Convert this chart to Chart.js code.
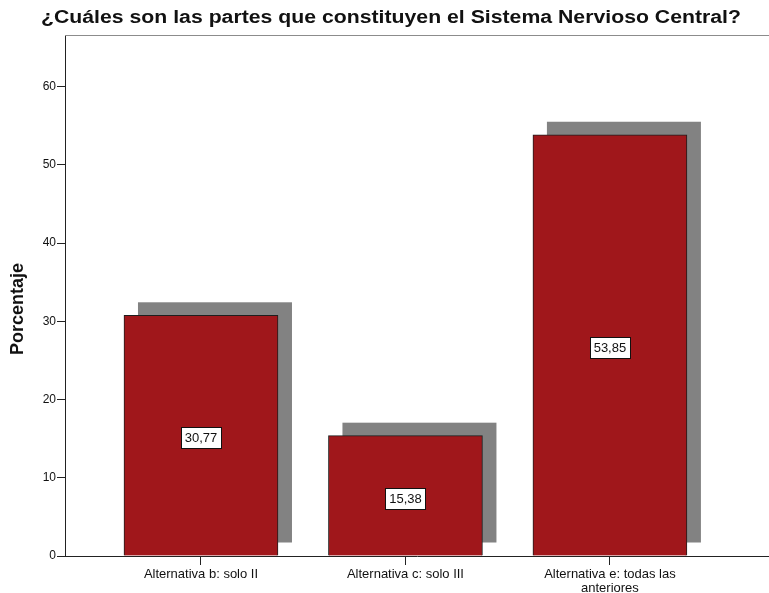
<!DOCTYPE html>
<html>
<head>
<meta charset="utf-8">
<script src="https://cdn.jsdelivr.net/npm/chart.js@4.4.1/dist/chart.umd.min.js"></script>
<style>
  html, body { margin: 0; padding: 0; background: #fff; }
  #wrap { width: 769px; height: 593px; }
</style>
</head>
<body>
<div id="wrap"><canvas id="chart" width="769" height="593"></canvas></div>
<script>
const categories = [
    ['Alternativa b: solo II'],
    ['Alternativa c: solo III'],
    ['Alternativa e: todas las', 'anteriores']
];
const positions = [0, 1, 2];
const percentages = [30.77, 15.38, 53.85];
const yTicks = [0, 10, 20, 30, 40, 50, 60];
const chartTitle = '¿Cuáles son las partes que constituyen el Sistema Nervioso Central?';
const yTitle = 'Porcentaje';

const colors = {
    bar: '#a0171b',
    barEdge: '#1e1e1e',
    shadow: '#828282',
    axis: '#222222',
    frame: '#8c8c8c',
    text: '#111111'
};
const FONT = "'Liberation Sans', Arial, sans-serif";

const fmt = v => v.toFixed(2).replace('.', ',');

// grey block behind each bar, shifted right and up
const shadowPlugin = {
    id: 'barShadow',
    beforeDatasetsDraw(chart) {
        const ctx = chart.ctx;
        ctx.save();
        ctx.fillStyle = colors.shadow;
        chart.getDatasetMeta(0).data.forEach(bar => {
            const { x, y, base, width } = bar.getProps(['x', 'y', 'base', 'width'], true);
            ctx.fillRect(x - width / 2 + 14, y - 13, width, base - y);
        });
        ctx.restore();
    }
};

// boxed value in the middle of each bar
const valueLabels = {
    id: 'valueLabels',
    afterDatasetsDraw(chart) {
        const ctx = chart.ctx;
        const ds = chart.data.datasets[0];
        ctx.save();
        ctx.font = '13px ' + FONT;
        ctx.textAlign = 'center';
        ctx.textBaseline = 'middle';
        chart.getDatasetMeta(0).data.forEach((bar, i) => {
            const { x, y, base } = bar.getProps(['x', 'y', 'base'], true);
            const label = fmt(ds.data[i].y);
            const cy = Math.round((y + base) / 2) + 2;
            const w = Math.round(ctx.measureText(label).width) + 7;
            const h = 21;
            const bx = Math.round(x - w / 2) + 0.5;
            const by = Math.round(cy - h / 2) + 0.5;
            ctx.fillStyle = '#fff';
            ctx.fillRect(bx, by, w, h);
            ctx.strokeStyle = '#111';
            ctx.lineWidth = 1;
            ctx.strokeRect(bx, by, w, h);
            ctx.fillStyle = colors.text;
            ctx.fillText(label, x, cy + 1);
        });
        ctx.restore();
    }
};

// top frame line, chart title and rotated axis title
const decorations = {
    id: 'decorations',
    afterDraw(chart) {
        const ctx = chart.ctx;
        const area = chart.chartArea;
        ctx.save();
        ctx.strokeStyle = colors.frame;
        ctx.lineWidth = 1;
        ctx.beginPath();
        ctx.moveTo(area.left, Math.round(area.top) + 0.5);
        ctx.lineTo(chart.width, Math.round(area.top) + 0.5);
        ctx.stroke();

        ctx.fillStyle = colors.text;
        ctx.textAlign = 'center';
        ctx.textBaseline = 'middle';
        ctx.save();
        ctx.translate(391, 18);
        ctx.scale(1.18, 1);
        ctx.font = 'bold 18px ' + FONT;
        ctx.fillText(chartTitle, 0, 0);
        ctx.restore();

        ctx.save();
        ctx.translate(18, 309);
        ctx.rotate(-Math.PI / 2);
        ctx.font = 'bold 18px ' + FONT;
        ctx.fillText(yTitle, 0, 0);
        ctx.restore();
        ctx.restore();
    }
};

new Chart(document.getElementById('chart'), {
    type: 'bar',
    data: {
        datasets: [{
            label: yTitle,
            data: positions.map((x, i) => ({ x, y: percentages[i] })),
            backgroundColor: colors.bar,
            borderColor: colors.barEdge,
            borderWidth: 1,
            barThickness: 154
        }]
    },
    options: {
        responsive: false,
        animation: false,
        devicePixelRatio: 1,
        layout: { padding: { top: 35, left: 0, right: 0, bottom: 0 } },
        plugins: {
            legend: { display: false },
            tooltip: { enabled: false },
            title: { display: false }
        },
        scales: {
            x: {
                type: 'linear',
                offset: false,
                min: -0.665,
                max: 2.778,
                afterFit: s => { s.height = 37; },
                afterBuildTicks: s => { s.ticks = positions.map(v => ({ value: v })); },
                ticks: {
                    callback: v => categories[positions.indexOf(v)],
                    font: { family: FONT, size: 13, lineHeight: 1.08 },
                    color: colors.text,
                    padding: 2,
                    maxRotation: 0,
                    autoSkip: false
                },
                grid: { offset: false, drawOnChartArea: false, drawTicks: true, tickLength: 9, color: colors.axis },
                border: { color: colors.axis, width: 1 }
            },
            y: {
                min: 0,
                max: 66.6,
                afterFit: s => { s.width = 65; },
                afterBuildTicks: s => { s.ticks = yTicks.map(v => ({ value: v })); },
                ticks: {
                    font: { family: FONT, size: 12 },
                    color: colors.text,
                    padding: 1
                },
                grid: { drawOnChartArea: false, drawTicks: true, tickLength: 8, color: colors.axis },
                border: { color: colors.axis, width: 1 }
            }
        }
    },
    plugins: [shadowPlugin, valueLabels, decorations]
});
</script>
</body>
</html>
